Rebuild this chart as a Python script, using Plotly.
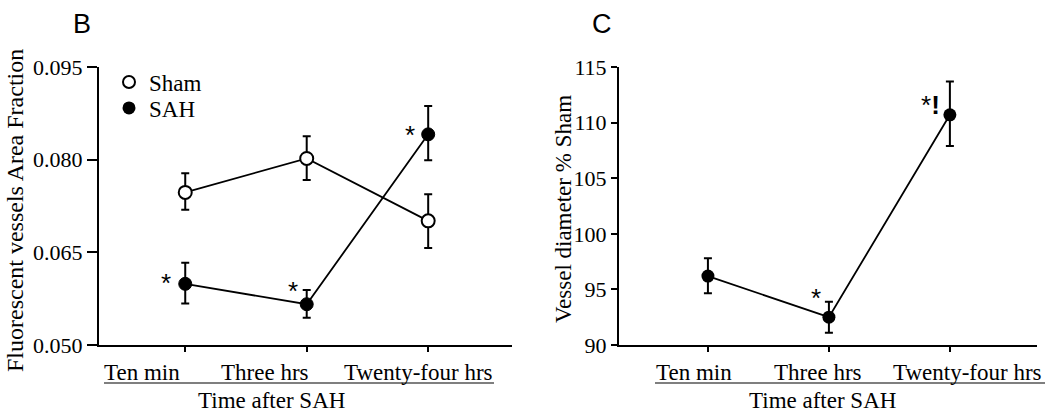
import plotly.graph_objects as go

categories = ["Ten min", "Three hrs", "Twenty-four hrs"]
cat_pos = [0, 1, 2]

sham_mean = [0.0747, 0.0802, 0.0701]
sham_err_plus = [0.0031, 0.0036, 0.0043]
sham_err_minus = [0.0028, 0.0035, 0.0044]

sah_mean = [0.0599, 0.0566, 0.0841]
sah_err_plus = [0.0034, 0.0023, 0.0046]
sah_err_minus = [0.0032, 0.0022, 0.0042]

diam_mean = [96.2, 92.5, 110.7]
diam_err_plus = [1.6, 1.4, 3.0]
diam_err_minus = [1.55, 1.4, 2.8]

left_yticks = [0.050, 0.065, 0.080, 0.095]
left_yticktext = ["0.050", "0.065", "0.080", "0.095"]
right_yticks = [90, 95, 100, 105, 110, 115]

W, H = 1050, 412
SERIF = "Times New Roman, Liberation Serif, Times, serif"
SANS = "Arial, Liberation Sans, Helvetica, sans-serif"

def px(x):
    return x / W

def py(y):
    return 1 - y / H

fig = go.Figure()

fig.add_trace(go.Scatter(
    x=cat_pos, y=sham_mean, mode="lines+markers", xaxis="x", yaxis="y",
    line=dict(color="black", width=1.8),
    marker=dict(symbol="circle", size=13, color="white", line=dict(color="black", width=2)),
    error_y=dict(type="data", symmetric=False, array=sham_err_plus, arrayminus=sham_err_minus,
                 color="black", thickness=2, width=4),
    showlegend=False,
))
fig.add_trace(go.Scatter(
    x=cat_pos, y=sah_mean, mode="lines+markers", xaxis="x", yaxis="y",
    line=dict(color="black", width=1.8),
    marker=dict(symbol="circle", size=13, color="black", line=dict(color="black", width=1)),
    error_y=dict(type="data", symmetric=False, array=sah_err_plus, arrayminus=sah_err_minus,
                 color="black", thickness=2, width=4),
    showlegend=False,
))
fig.add_trace(go.Scatter(
    x=[None], y=[None], mode="markers", name="Sham", xaxis="x", yaxis="y", legend="legend",
    marker=dict(symbol="circle", size=12, color="white", line=dict(color="black", width=2)),
))
fig.add_trace(go.Scatter(
    x=[None], y=[None], mode="markers", name="SAH", xaxis="x", yaxis="y", legend="legend2",
    marker=dict(symbol="circle", size=13, color="black"),
))
fig.add_trace(go.Scatter(
    x=cat_pos, y=diam_mean, mode="lines+markers", xaxis="x2", yaxis="y2",
    line=dict(color="black", width=1.8),
    marker=dict(symbol="circle", size=13, color="black"),
    error_y=dict(type="data", symmetric=False, array=diam_err_plus, arrayminus=diam_err_minus,
                 color="black", thickness=2, width=4),
    showlegend=False,
))

ydom = [py(345), py(67)]
axis_common = dict(showgrid=False, zeroline=False, showline=True, linecolor="black", linewidth=2,
                   ticks="outside", tickcolor="black", tickwidth=2, automargin=False)
tickfont = dict(family=SERIF, size=22, color="black")
legfont = dict(family=SERIF, size=23, color="black")

fig.update_layout(
    template="none",
    width=W, height=H,
    margin=dict(l=0, r=0, t=0, b=0, pad=0, autoexpand=False),
    paper_bgcolor="white", plot_bgcolor="white",
    font=dict(family=SERIF, size=22, color="black"),
    xaxis=dict(domain=[px(99), px(512)], range=[-0.71, 2.69], tickvals=cat_pos,
               showticklabels=False, ticklen=5, anchor="y", **axis_common),
    yaxis=dict(domain=ydom, range=[0.050, 0.095], tickvals=left_yticks, ticktext=left_yticktext,
               ticklen=10, anchor="x", tickfont=tickfont, **axis_common),
    xaxis2=dict(domain=[px(619), px(1037)], range=[-0.735, 2.72], tickvals=cat_pos,
                showticklabels=False, ticklen=5, anchor="y2", **axis_common),
    yaxis2=dict(domain=ydom, range=[90, 115], tickvals=right_yticks,
                ticklen=6, anchor="x2", tickfont=tickfont, **axis_common),
    legend=dict(x=px(109), y=py(82), xanchor="left", yanchor="middle", font=legfont,
                bgcolor="rgba(0,0,0,0)", borderwidth=0, itemwidth=30),
    legend2=dict(x=px(109), y=py(108), xanchor="left", yanchor="middle", font=legfont,
                 bgcolor="rgba(0,0,0,0)", borderwidth=0, itemwidth=30),
    showlegend=True,
)

def txt(text, x, y, size, family=SERIF, **kw):
    d = dict(text=text, x=x, y=y, showarrow=False, xanchor="center", yanchor="middle",
             font=dict(family=family, size=size, color="black"))
    d.update(kw)
    return d

ann = []
ann.append(txt("B", px(82), py(24), 27, SANS, xref="paper", yref="paper"))
ann.append(txt("C", px(602), py(24), 27, SANS, xref="paper", yref="paper"))
ann.append(txt("Fluorescent vessels Area Fraction", px(15), py(211), 24, xref="paper", yref="paper", textangle=-90))
ann.append(txt("Vessel diameter % Sham", px(563), py(209), 23, xref="paper", yref="paper", textangle=-90))
left_shifts = [-43, -42, -10]
right_shifts = [-14, -11, 18]
for i, c in enumerate(categories):
    ann.append(txt(c, cat_pos[i], py(372), 23, xref="x", yref="paper", xshift=left_shifts[i]))
    ann.append(txt(c, cat_pos[i], py(372), 23, xref="x2", yref="paper", xshift=right_shifts[i]))
ann.append(txt("Time after SAH", px(271), py(400), 23, xref="paper", yref="paper"))
ann.append(txt("Time after SAH", px(822), py(400), 23, xref="paper", yref="paper"))
ann.append(txt("*", cat_pos[0], sah_mean[0], 26, SANS, xref="x", yref="y", xshift=-19, yshift=1))
ann.append(txt("*", cat_pos[1], sah_mean[1], 26, SANS, xref="x", yref="y", xshift=-14, yshift=13))
ann.append(txt("*", cat_pos[2], sah_mean[2], 26, SANS, xref="x", yref="y", xshift=-18, yshift=-1))
ann.append(txt("*", cat_pos[1], diam_mean[1], 26, SANS, xref="x2", yref="y2", xshift=-13, yshift=19))
ann.append(txt("*<b>!</b>", cat_pos[2], diam_mean[2], 26, SANS, xref="x2", yref="y2", xshift=-19, yshift=10))
fig.update_layout(annotations=ann)

fig.add_shape(type="line", xref="paper", yref="paper", x0=px(104), x1=px(494), y0=py(383), y1=py(383),
              line=dict(color="black", width=1.2))
fig.add_shape(type="line", xref="paper", yref="paper", x0=px(655), x1=px(1045), y0=py(383), y1=py(383),
              line=dict(color="black", width=1.2))

fig.write_html("out.html", config={"displayModeBar": False},
               post_script="document.body.style.margin='0px';")
